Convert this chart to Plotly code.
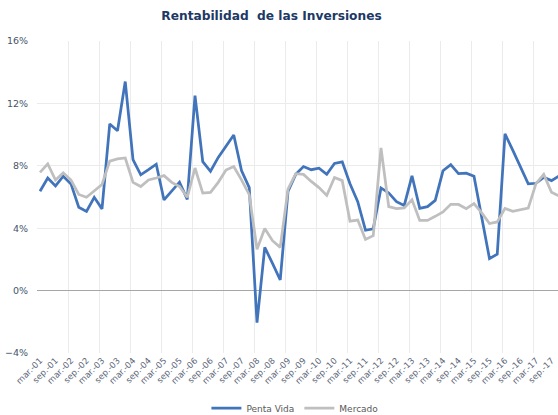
import plotly.graph_objects as go

# Quarterly returns (%), mar-01 ... dec-17
penta_vida = [6.37, 7.22, 6.71, 7.33, 6.84, 5.34, 5.07, 5.98, 5.24, 10.68,
              10.25, 13.4, 8.4, 7.42, 7.75, 8.1, 5.81, 6.4, 6.95, 5.85,
              12.5, 8.27, 7.65, 8.54, 9.29, 9.97, 7.7, 6.6, -2.05, 2.77,
              1.75, 0.68, 6.35, 7.45, 7.95, 7.75, 7.85, 7.45, 8.15, 8.25,
              6.85, 5.7, 3.87, 3.96, 6.58, 6.26, 5.7, 5.46, 7.36, 5.27,
              5.38, 5.78, 7.68, 8.07, 7.5, 7.53, 7.33, 4.7, 2.05, 2.34,
              10.05, 9.0, 7.9, 6.84, 6.88, 7.26, 7.05, 7.35]

mercado = [7.58, 8.12, 7.09, 7.55, 7.09, 6.16, 5.98, 6.41, 6.8, 8.3,
           8.44, 8.5, 6.94, 6.67, 7.09, 7.22, 7.37, 6.94, 6.67, 5.98,
           7.86, 6.25, 6.3, 6.94, 7.73, 7.95, 7.1, 6.15, 2.65, 3.98,
           3.2, 2.77, 6.5, 7.5, 7.45, 7.0, 6.6, 6.1, 7.25, 7.05,
           4.45, 4.52, 3.28, 3.52, 9.15, 5.38, 5.25, 5.3, 5.82, 4.5,
           4.5, 4.76, 5.04, 5.53, 5.52, 5.25, 5.58, 4.98, 4.3, 4.4,
           5.27, 5.08, 5.19, 5.29, 6.86, 7.45, 6.3, 6.06]

tick_labels = ["mar.-01", "sep.-01", "mar.-02", "sep.-02", "mar.-03", "sep.-03",
               "mar.-04", "sep.-04", "mar.-05", "sep.-05", "mar.-06", "sep.-06",
               "mar.-07", "sep.-07", "mar.-08", "sep.-08", "mar.-09", "sep.-09",
               "mar.-10", "sep.-10", "mar.-11", "sep.-11", "mar.-12", "sep.-12",
               "mar.-13", "sep.-13", "mar.-14", "sep.-14", "mar.-15", "sep.-15",
               "mar.-16", "sep.-16", "mar.-17", "sep.-17"]

x = list(range(len(penta_vida)))
tick_pos = [2 * k for k in range(len(tick_labels))]
grid_pos = [-0.35 + 4 * k for k in range(18)]

fig = go.Figure()
fig.add_trace(go.Scatter(x=x, y=penta_vida, mode="lines", name="Penta Vida",
                         line=dict(color="#4174BA", width=2.75)))
fig.add_trace(go.Scatter(x=x, y=mercado, mode="lines", name="Mercado",
                         line=dict(color="#BFBFBF", width=2.75)))

fig.update_layout(
    width=558, height=415,
    margin=dict(l=37, r=0, t=41, b=62, autoexpand=False),
    paper_bgcolor="white", plot_bgcolor="white",
    font=dict(family="DejaVu Sans", size=9),
    title=dict(text="Rentabilidad\u00a0 de las Inversiones",
               x=271.5 / 558, xref="container", xanchor="center",
               y=1 - 16 / 415, yref="container", yanchor="middle",
               font=dict(family="DejaVu Sans", size=12.2, color="#203864", weight="bold")),
    showlegend=True,
    legend=dict(orientation="h", x=0.495, xanchor="center",
                yref="container", y=1 - 408 / 415, yanchor="middle",
                font=dict(size=9, color="#595959"), bgcolor="rgba(0,0,0,0)"),
    xaxis=dict(range=[-0.387, 66.84], tickmode="array", tickvals=tick_pos,
               ticktext=tick_labels, tickangle=-45, showgrid=False, zeroline=False,
               showline=False, ticks="", automargin=False,
               tickfont=dict(size=8.5, color="#5A6478"),
               minor=dict(tickmode="array", tickvals=grid_pos, showgrid=True,
                          gridcolor="#EBEBEB", gridwidth=1, ticks="")),
    yaxis=dict(range=[-4, 16], tickmode="linear", tick0=-4, dtick=4, ticksuffix="%",
               showgrid=True, gridcolor="#EBEBEB", gridwidth=1,
               zeroline=True, zerolinecolor="#A6A6A6", zerolinewidth=1,
               showline=False, ticks="", ticklabelstandoff=8, automargin=False,
               tickfont=dict(size=9.5, color="#44546A")),
)

fig.write_html("out.html", config={"displayModeBar": False},
               post_script="document.body.style.margin='0';document.body.style.overflow='hidden';")
